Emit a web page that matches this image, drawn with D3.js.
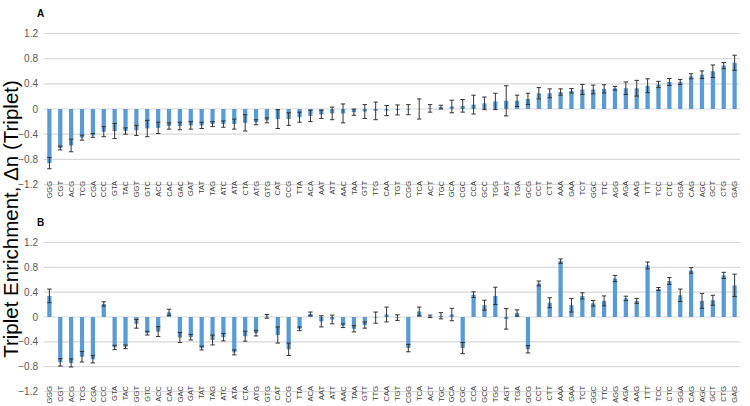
<!DOCTYPE html>
<html>
<head>
<meta charset="utf-8">
<script src="https://cdnjs.cloudflare.com/ajax/libs/d3/7.8.5/d3.min.js"></script>
<style>
  body { margin: 0; background: #fff; }
  svg { display: block; font-family: Arial, "Liberation Sans", sans-serif; }
</style>
</head>
<body>
<div id="chartArea"></div>
<script>
// triplet order (same in both panels, sorted by panel A)
var triplets = ["GGG","CGT","ACG","TCG","CGA","CCC","GTA","TAC","GGT","GTC","ACC","CAC","GAC","GAT","TAT","TAG",
  "ATC","ATA","CTA","ATG","GTG","CAT","CCG","TTA","ACA","AAT","ATT","AAC","TAA","GTT","TTG","CAA",
  "TGT","CGG","TCA","ACT","TGC","GCA","CGC","CCA","GCC","TGG","AGT","TGA","GCG","CCT","CTT","AAA",
  "GAA","TCT","GGC","TTC","AGG","AGA","AAG","TTT","TCC","CTC","GGA","CAG","AGC","GCT","CTG","GAG"];

var enrichA = [-0.86,-0.62,-0.58,-0.455,-0.42,-0.36,-0.35,-0.35,-0.34,-0.31,-0.30,-0.27,-0.27,-0.26,-0.26,-0.24,
  -0.24,-0.24,-0.22,-0.21,-0.18,-0.16,-0.16,-0.13,-0.11,-0.085,-0.07,-0.07,-0.05,-0.04,-0.03,-0.025,
  -0.015,-0.01,0.0,0.01,0.03,0.04,0.05,0.07,0.09,0.12,0.13,0.13,0.16,0.25,0.25,0.27,
  0.29,0.31,0.31,0.32,0.33,0.33,0.33,0.37,0.39,0.43,0.43,0.52,0.545,0.60,0.69,0.735];
var errA = [0.09,0.03,0.10,0.04,0.03,0.08,0.12,0.05,0.08,0.13,0.09,0.05,0.06,0.06,0.05,0.04,
  0.05,0.08,0.13,0.04,0.04,0.15,0.10,0.08,0.09,0.065,0.10,0.15,0.05,0.11,0.14,0.08,
  0.08,0.08,0.16,0.06,0.03,0.10,0.10,0.15,0.10,0.13,0.24,0.09,0.09,0.09,0.07,0.05,
  0.035,0.08,0.07,0.065,0.03,0.10,0.125,0.11,0.05,0.055,0.04,0.04,0.06,0.10,0.05,0.12];

var enrichB = [0.34,-0.73,-0.74,-0.64,-0.68,0.21,-0.49,-0.48,-0.11,-0.26,-0.235,0.075,-0.33,-0.325,-0.50,-0.37,
  -0.325,-0.57,-0.31,-0.26,0.01,-0.29,-0.52,-0.19,0.05,-0.07,-0.04,-0.14,-0.19,-0.13,-0.01,0.04,
  -0.01,-0.50,0.09,0.01,0.02,0.04,-0.50,0.36,0.19,0.34,-0.03,0.065,-0.52,0.54,0.23,0.90,
  0.19,0.34,0.22,0.26,0.62,0.30,0.26,0.83,0.45,0.58,0.35,0.75,0.26,0.27,0.67,0.51];
var errB = [0.11,0.06,0.065,0.085,0.06,0.035,0.035,0.03,0.07,0.03,0.08,0.05,0.08,0.045,0.03,0.08,
  0.06,0.04,0.08,0.045,0.03,0.13,0.10,0.03,0.03,0.09,0.07,0.03,0.05,0.05,0.09,0.12,
  0.045,0.06,0.07,0.02,0.05,0.10,0.09,0.045,0.08,0.14,0.165,0.05,0.06,0.04,0.08,0.035,
  0.11,0.05,0.045,0.08,0.05,0.035,0.04,0.055,0.025,0.055,0.10,0.045,0.12,0.08,0.05,0.18];

var yTicks = [-1.2,-0.8,-0.4,0,0.4,0.8,1.2];
var yTitle = "Triplet Enrichment, \u0394n (Triplet)";

var W = 750, H = 406;
var svg = d3.select("#chartArea").append("svg").attr("width", W).attr("height", H);

var x = d3.scaleBand().domain(triplets).range([44, 740]).paddingInner(0.61).paddingOuter(0.3);

function tickFmt(d) {
  return d === 0 ? "0" : d3.format(".1f")(d);
}

function drawPanel(letter, vals, errs, top, bottom, labelEnd) {
  var y = d3.scaleLinear().domain([-1.2, 1.2]).range([bottom, top]);
  var g = svg.append("g");

  // gridlines
  g.selectAll(".grid").data(yTicks).enter().append("line")
    .attr("x1", 44).attr("x2", 740)
    .attr("y1", function(d) { return y(d); }).attr("y2", function(d) { return y(d); })
    .attr("stroke", "#d9d9d9").attr("stroke-width", 1.2);

  // y axis labels
  g.selectAll(".ytick").data(yTicks).enter().append("text")
    .attr("x", 38).attr("y", function(d) { return y(d); })
    .attr("dy", "0.35em").attr("text-anchor", "end")
    .style("font-size", "10px").attr("fill", "#595959")
    .text(tickFmt);

  // bars
  g.selectAll(".bar").data(vals).enter().append("rect")
    .attr("x", function(d, i) { return x(triplets[i]); })
    .attr("width", x.bandwidth())
    .attr("y", function(d) { return y(Math.max(0, d)); })
    .attr("height", function(d) { return Math.abs(y(d) - y(0)); })
    .attr("fill", "#5b9bd5");

  // error bars
  var eb = g.selectAll(".err").data(vals).enter().append("g")
    .attr("stroke", "#333").attr("stroke-width", 1);
  eb.append("line")
    .attr("x1", function(d, i) { return x(triplets[i]) + x.bandwidth() / 2; })
    .attr("x2", function(d, i) { return x(triplets[i]) + x.bandwidth() / 2; })
    .attr("y1", function(d, i) { return y(d + errs[i]); })
    .attr("y2", function(d, i) { return y(d - errs[i]); });
  [1, -1].forEach(function(s) {
    eb.append("line")
      .attr("x1", function(d, i) { return x(triplets[i]) + x.bandwidth() / 2 - 2.2; })
      .attr("x2", function(d, i) { return x(triplets[i]) + x.bandwidth() / 2 + 2.2; })
      .attr("y1", function(d, i) { return y(d + s * errs[i]); })
      .attr("y2", function(d, i) { return y(d + s * errs[i]); });
  });

  // category labels
  g.selectAll(".xlab").data(triplets).enter().append("text")
    .attr("transform", function(d) {
      return "translate(" + (x(d) + x.bandwidth() / 2) + "," + labelEnd + ") rotate(-90)";
    })
    .attr("dy", "0.35em").attr("text-anchor", "end")
    .style("font-size", "7.5px").attr("fill", "#404040")
    .text(function(d) { return d; });

  // panel letter
  svg.append("text").attr("x", 37).attr("y", top - 17)
    .style("font-size", "10px").style("font-weight", "bold")
    .text(letter);
}

drawPanel("A", enrichA, errA, 33.5, 184.5, 181);
drawPanel("B", enrichB, errB, 242.5, 391.5, 386);

// shared y title
svg.append("text")
  .attr("transform", "translate(17.5,219) rotate(-90)")
  .attr("text-anchor", "middle")
  .style("font-size", "20.5px").attr("fill", "#000")
  .text(yTitle);
</script>
</body>
</html>
